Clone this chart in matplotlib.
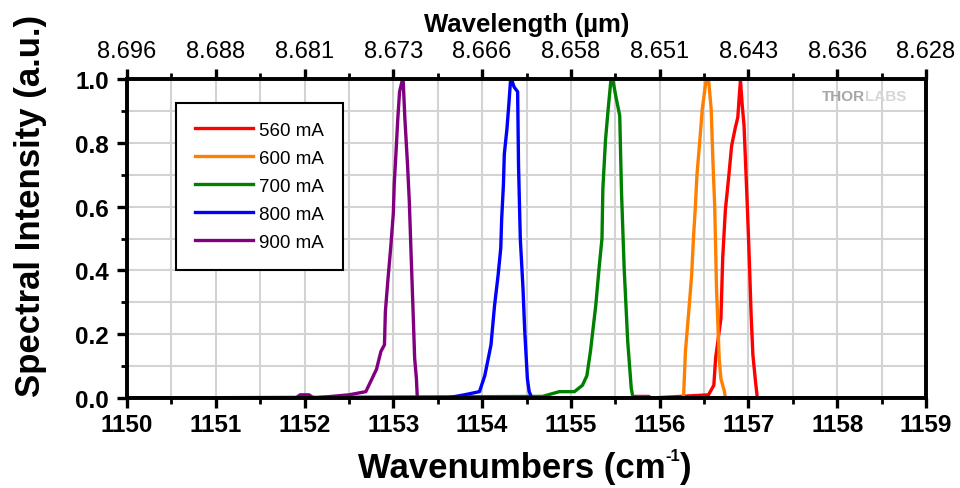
import matplotlib
matplotlib.use("Agg")
import matplotlib.pyplot as plt
from matplotlib.ticker import MultipleLocator, FixedLocator

plt.rcParams['font.family'] = ['Liberation Sans', 'DejaVu Sans']

labels = ["560 mA", "600 mA", "700 mA", "800 mA", "900 mA"]
colors = ["#ff0000", "#ff8000", "#008000", "#0000ff", "#800080"]

x560 = [1150.0, 1155.70, 1155.72, 1155.88, 1155.90, 1156.55, 1156.61, 1156.63, 1156.69, 1156.71, 1156.74,
        1156.78, 1156.81, 1156.85, 1156.88, 1156.90, 1156.91, 1156.93, 1156.95, 1156.97, 1156.99,
        1157.01, 1157.03, 1157.05, 1157.08, 1157.10, 1159.0]
y560 = [0.0, 0.0, 0.005, 0.005, 0.0, 0.01, 0.04, 0.125, 0.25, 0.44, 0.59,
        0.70, 0.79, 0.845, 0.88, 0.96, 0.995, 0.917, 0.855, 0.72, 0.58,
        0.43, 0.26, 0.135, 0.05, 0.0, 0.0]

x600 = [1150.0, 1156.26, 1156.27, 1156.29, 1156.33, 1156.36, 1156.38, 1156.40, 1156.42, 1156.45,
        1156.48, 1156.52, 1156.55, 1156.58, 1156.60, 1156.62, 1156.64, 1156.67, 1156.69,
        1156.73, 1156.74, 1159.0]
y600 = [0.0, 0.0, 0.01, 0.146, 0.28, 0.385, 0.50, 0.59, 0.70, 0.80,
        0.906, 0.99, 1.0, 0.906, 0.74, 0.60, 0.345, 0.125, 0.06,
        0.02, 0.0, 0.0]

x700 = [1150.0, 1154.68, 1154.87, 1155.04, 1155.13, 1155.18, 1155.22, 1155.28, 1155.32, 1155.35,
        1155.36, 1155.39, 1155.42, 1155.45, 1155.47, 1155.51, 1155.55, 1155.57, 1155.60,
        1155.64, 1155.68, 1155.70, 1159.0]
y700 = [0.0, 0.005, 0.02, 0.02, 0.04, 0.07, 0.146, 0.29, 0.415, 0.50,
        0.656, 0.81, 0.906, 0.995, 1.0, 0.94, 0.885, 0.645, 0.406,
        0.177, 0.03, 0.0, 0.0]

x800 = [1150.0, 1153.60, 1153.80, 1153.97, 1154.03, 1154.07, 1154.10, 1154.14, 1154.18, 1154.21,
        1154.22, 1154.24, 1154.25, 1154.28, 1154.30, 1154.32, 1154.33, 1154.36, 1154.40,
        1154.41, 1154.43, 1154.46, 1154.48, 1154.51, 1154.53, 1154.56, 1159.0]
y800 = [0.0, 0.0, 0.01, 0.02, 0.07, 0.125, 0.167, 0.29, 0.385, 0.47,
        0.56, 0.67, 0.765, 0.845, 0.917, 0.995, 1.0, 0.975, 0.96,
        0.73, 0.50, 0.345, 0.21, 0.06, 0.02, 0.0, 0.0]

x900 = [1150.0, 1151.90, 1151.95, 1152.05, 1152.10, 1152.50, 1152.69, 1152.81, 1152.86, 1152.90,
        1152.91, 1152.94, 1152.97, 1153.00, 1153.01, 1153.03, 1153.05, 1153.07, 1153.10,
        1153.11, 1153.13, 1153.16, 1153.18, 1153.20, 1153.22, 1153.24, 1153.26, 1153.27, 1159.0]
y900 = [0.0, 0.0, 0.01, 0.01, 0.0, 0.01, 0.02, 0.09, 0.146, 0.167,
        0.27, 0.375, 0.47, 0.58, 0.67, 0.77, 0.875, 0.96, 0.995,
        1.0, 0.875, 0.73, 0.615, 0.45, 0.29, 0.125, 0.06, 0.0, 0.0]

series_x = [x560, x600, x700, x800, x900]
series_y = [y560, y600, y700, y800, y900]

xmin, xmax = 1150, 1159
x_ticks = [1150, 1151, 1152, 1153, 1154, 1155, 1156, 1157, 1158, 1159]
y_ticks = [0.0, 0.2, 0.4, 0.6, 0.8, 1.0]
y_ticklabels = ["0.0", "0.2", "0.4", "0.6", "0.8", "1.0"]

fig = plt.figure(figsize=(9.6, 4.89), dpi=100)
AX_L, AX_B, AX_W, AX_H = 0.1323, 0.184, 0.8323, 0.6524
ax = fig.add_axes([AX_L, AX_B, AX_W, AX_H])

for xs, ys, c, lab in zip(series_x, series_y, colors, labels):
    ax.plot(xs, ys, color=c, lw=2.4, label=lab)

ax.set_xlim(xmin, xmax)
ax.set_ylim(0, 1.0)
ax.set_xticks(x_ticks)
ax.set_xticklabels([str(t) for t in x_ticks], fontweight='bold')
ax.xaxis.set_minor_locator(MultipleLocator(0.5))
ax.set_yticks(y_ticks)
ax.set_yticklabels(y_ticklabels, fontweight='bold')
ax.yaxis.set_minor_locator(MultipleLocator(0.1))
ax.grid(True, which='both', color='#d3d3d3', lw=1.5)
ax.set_axisbelow(True)

for sp in ax.spines.values():
    sp.set_linewidth(2.6)
    sp.set_color('black')

ax.tick_params(which='major', direction='out', length=7, width=2.4, labelsize=17.5, pad=6)
ax.tick_params(axis='x', which='major', pad=4)
ax.tick_params(which='minor', direction='out', length=4, width=2.0)

# y label
fig.text(31 / 960, 1 - 206 / 489, "Spectral Intensity (a.u.)", rotation=90,
         fontsize=25, fontweight='bold', ha='center', va='center')

# x label with a small "-1" superscript (hyphen, as in the reference)
fig.canvas.draw()
r = fig.canvas.get_renderer()
base_y = (489 - 478) / 489
p1 = fig.text(0, base_y, "Wavenumbers (cm", fontsize=25, fontweight='bold', ha='left', va='baseline')
p2 = fig.text(0, base_y, "-1", fontsize=12, fontweight='bold', ha='left', va='baseline')
p3 = fig.text(0, base_y, ")", fontsize=25, fontweight='bold', ha='left', va='baseline')
W = fig.bbox.width
w1 = p1.get_window_extent(r).width / W
w2 = p2.get_window_extent(r).width / W
w3 = p3.get_window_extent(r).width / W
total = w1 + w2 + w3
x0 = 525 / 960 - total / 2
p1.set_x(x0)
p2.set_x(x0 + w1)
p2.set_y(base_y + 17 / 489)
p3.set_x(x0 + w1 + w2)

# top axis: wavelength in micrometers
ax2 = ax.twiny()
ax2.set_xlim(xmin, xmax)
ax2.xaxis.set_major_locator(FixedLocator(x_ticks))
ax2.xaxis.set_minor_locator(MultipleLocator(0.5))
ax2.set_xticklabels(["%.3f" % (1e4 / t) for t in x_ticks], fontsize=17)
ax2.tick_params(which='major', direction='out', length=7, width=2.4, pad=5)
ax2.tick_params(which='minor', direction='out', length=4, width=2.0)
ax2.set_xlabel("Wavelength (µm)", fontsize=18.5, fontweight='bold', labelpad=7)
for sp in ax2.spines.values():
    sp.set_linewidth(2.6)

leg = ax.legend(loc='upper left', bbox_to_anchor=((176 - 127) / 799, (400 - 104) / 320),
                fontsize=13.5, frameon=True, fancybox=False, edgecolor='black',
                handlelength=3.1, handletextpad=0.35, labelspacing=0.58,
                borderpad=1.0, borderaxespad=0)
leg.get_frame().set_linewidth(1.5)
leg.get_frame().set_alpha(1)

fig.canvas.draw()
t1 = ax.text((822 - 127) / 799, (400 - 97) / 320, "THOR", transform=ax.transAxes,
             ha='left', va='center', fontsize=11, fontweight='bold', color='#a6a6a6')
wt = t1.get_window_extent(r).width / (AX_W * W)
ax.text((822 - 127) / 799 + wt, (400 - 97) / 320, "LABS", transform=ax.transAxes,
        ha='left', va='center', fontsize=11, fontweight='bold', color='#d6d6d6')

fig.savefig("out.png", dpi=100)
